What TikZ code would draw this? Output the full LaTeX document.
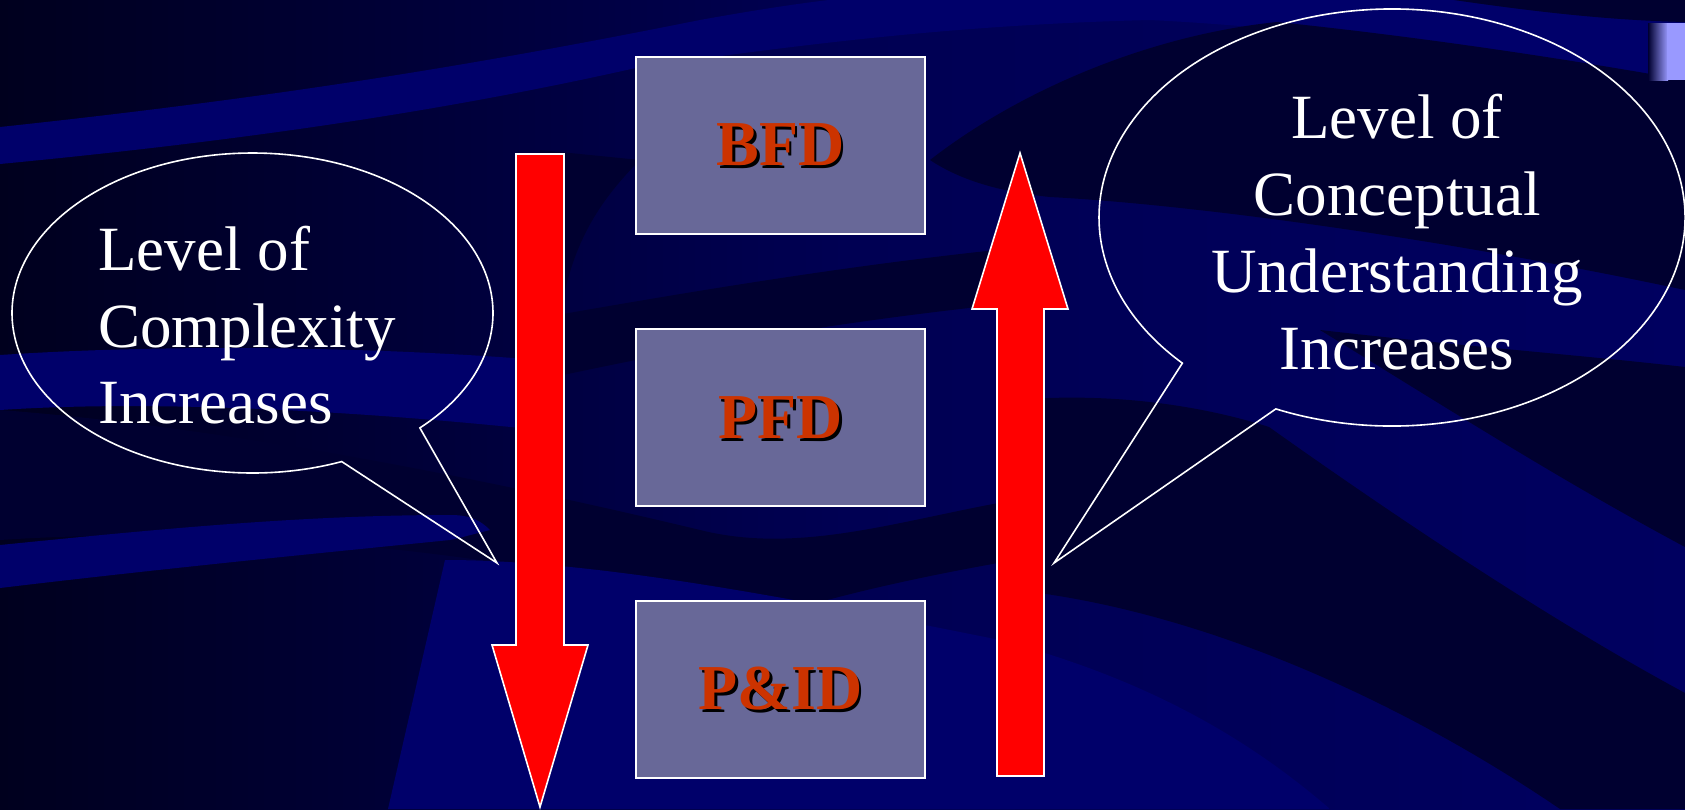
\documentclass[tikz,border=0pt]{standalone}
\usepackage{fontspec}
\setmainfont{Liberation Serif}
\definecolor{bgdeep}{RGB}{0,0,30}
\definecolor{bgnavy}{RGB}{0,0,96}
\definecolor{ribnavy}{RGB}{0,0,106}
\definecolor{ribdark}{RGB}{0,0,48}
\definecolor{boxfill}{RGB}{104,104,152}
\definecolor{labelred}{RGB}{204,51,0}
\definecolor{barblue}{RGB}{153,153,255}
\newcommand\shadowlabel[1]{\leavevmode\rlap{\kern1.3pt\raisebox{-1.3pt}[0pt][0pt]{\color{black}#1}}{\color{labelred}#1}}
\tikzset{
  ribbon/.style={fill=ribnavy, draw=none},
  shadowband/.style={fill=ribdark, draw=none},
  stage/.style={rectangle, draw=white, line width=1pt, fill=boxfill,
    minimum width=144.5pt, minimum height=88.5pt, inner sep=0pt,
    font=\fontsize{32}{38}\selectfont\bfseries},
  bigarrow/.style={fill=red, draw=white, line width=0.8pt, line join=miter},
  callout/.style={draw=white, line width=0.8pt, line join=miter},
  calltext/.style={text=white, inner sep=0pt, font=\fontsize{31.5}{38}\selectfont}
}
\begin{document}
\begin{tikzpicture}[x=0.5pt,y=-0.5pt]
\useasboundingbox (0,0) rectangle (1685,809);
% ---------- background ----------
\begin{scope}
\clip (0,0) rectangle (1685,809);
\shade[left color=bgdeep, right color=bgnavy, middle color=bgnavy!80!bgdeep] (0,0) rectangle (1685,809);
% upper sweep from the left edge into the top band
\fill[ribbon] (0,127) .. controls (300,95) and (500,60) .. (700,20)
  .. controls (800,2) and (860,-5) .. (900,-5) -- (1420,-5)
  .. controls (1520,10) and (1600,20) .. (1685,22) -- (1685,80)
  .. controls (1500,60) and (1350,30) .. (1150,20)
  .. controls (950,25) and (800,45) .. (640,67)
  .. controls (450,110) and (250,140) .. (0,164) -- cycle;
% dark top-right corner
\fill[shadowband] (1420,-5) .. controls (1520,10) and (1600,20) .. (1685,22) -- (1685,-5) -- cycle;
% dark ribbon through the right callout
\fill[shadowband] (930,160) .. controls (1020,90) and (1150,35) .. (1277,22)
  .. controls (1450,40) and (1600,65) .. (1685,80) -- (1685,290)
  .. controls (1450,240) and (1200,205) .. (1050,197)
  .. controls (1000,192) and (960,180) .. (930,160) -- cycle;
% wedge under the right callout
\fill[shadowband] (1320,330) .. controls (1450,345) and (1580,355) .. (1685,367) -- (1685,547)
  .. controls (1560,480) and (1450,410) .. (1320,330) -- cycle;
% long dark stripe towards the lower right
\fill[shadowband] (1015,400) .. controls (1110,392) and (1200,405) .. (1269,427)
  .. controls (1400,520) and (1550,620) .. (1685,693) -- (1685,809) -- (1560,809)
  .. controls (1400,700) and (1200,610) .. (1015,590) -- cycle;
% darker strip near the bottom right
\fill[shadowband] (1015,700) .. controls (1150,720) and (1250,760) .. (1330,809) -- (1015,809) -- cycle;
% middle ribbons behind the stages
\fill[shadowband] (540,318) .. controls (700,290) and (850,265) .. (1015,248)
  -- (1015,303) .. controls (850,320) and (700,345) .. (540,380) -- cycle;
\fill[shadowband] (640,160) .. controls (600,200) and (575,240) .. (563,300)
  -- (540,300) -- (540,150) -- cycle;
\fill[shadowband] (0,410) .. controls (200,425) and (450,470) .. (700,530)
  .. controls (800,555) and (900,520) .. (1015,500) -- (1015,560)
  .. controls (900,580) and (820,600) .. (760,620)
  .. controls (600,570) and (300,520) .. (0,540) -- cycle;
% left middle sweep
\fill[ribbon] (0,355) .. controls (150,345) and (350,345) .. (540,360)
  -- (540,430) .. controls (350,410) and (150,400) .. (0,410) -- cycle;
% lower left sweep
\fill[ribbon] (0,545) .. controls (150,530) and (300,515) .. (450,515)
  .. controls (470,515) and (480,520) .. (490,530)
  .. controls (470,535) and (460,538) .. (450,540)
  .. controls (300,555) and (150,570) .. (0,588) -- cycle;
\fill[ribbon] (445,560) .. controls (600,560) and (800,600) .. (1000,640)
  .. controls (1150,680) and (1250,740) .. (1330,809) -- (388,809) -- cycle;
% light tab in the top-right corner
\shade[left color=ribdark, right color=barblue] (1648,23) rectangle (1668,80);
\fill[barblue] (1667,23) rectangle (1685,80);
\end{scope}
% ---------- stages ----------
\node[stage] (bfd)  at (780.5,145)   {\raisebox{-1.5pt}{\shadowlabel{BFD}}};
\node[stage] (pfd)  at (780.5,417.5) {\raisebox{-1.5pt}{\shadowlabel{PFD}}};
\node[stage] (pid)  at (780.5,689)   {\raisebox{-1.5pt}{\shadowlabel{P\&ID}}};
% ---------- arrows ----------
\coordinate (downtip) at (540,807);
\coordinate (uptip) at (1020,153);
\draw[bigarrow] (516,154) -- (564,154) -- (564,645) -- (588,645) -- (downtip)
  -- (492,645) -- (516,645) -- cycle;
\draw[bigarrow] (997,776) -- (1044,776) -- (1044,309) -- (1068,309) -- (uptip)
  -- (972,309) -- (997,309) -- cycle;
% ---------- callouts ----------
\coordinate (lc) at (252.5,313);
\coordinate (ltip) at (497,563);
\draw[callout] ([shift={(lc)}]-45.9:120.25pt and 80pt)
  arc[start angle=-45.9, end angle=291.78, x radius=120.25pt, y radius=80pt]
  -- (ltip) -- cycle;
\coordinate (rc) at (1392,217.5);
\coordinate (rtip) at (1054,563);
\draw[callout] ([shift={(rc)}]246.64:146.5pt and 104.25pt)
  arc[start angle=246.64, end angle=584.31, x radius=146.5pt, y radius=104.25pt]
  -- (rtip) -- cycle;
% ---------- callout texts ----------
\node[calltext, anchor=base west] (l1) at (98,270) {Level of};
\node[calltext, anchor=base west] (l2) at (98,347) {Complexity};
\node[calltext, anchor=base west] (l3) at (98,423) {Increases};
\node[calltext, anchor=base] (r1) at (1397,138) {Level of};
\node[calltext, anchor=base] (r2) at (1397,215) {Conceptual};
\node[calltext, anchor=base] (r3) at (1397,292) {Understanding};
\node[calltext, anchor=base] (r4) at (1397,369) {Increases};
\end{tikzpicture}
\end{document}
